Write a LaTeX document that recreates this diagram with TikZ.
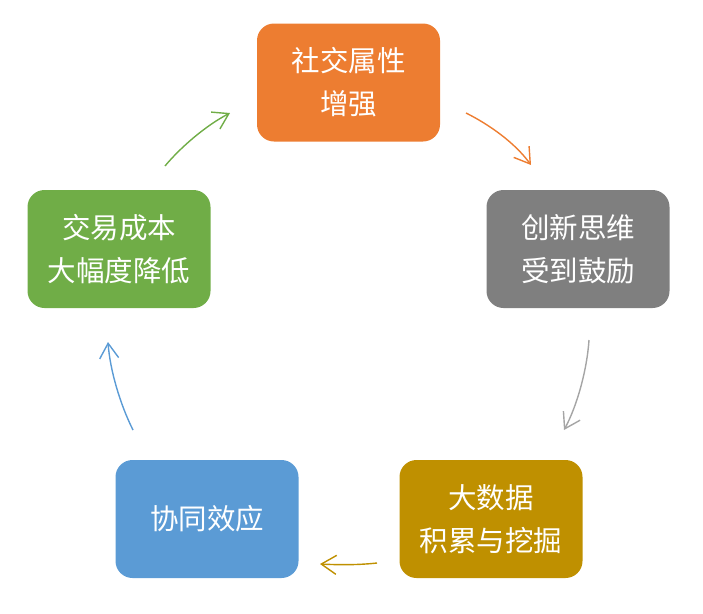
\documentclass[tikz,border=0pt]{standalone}
\usepackage{fontspec}
\newfontfamily\cjk{Noto Sans CJK SC}
\usetikzlibrary{arrows.meta,calc}
\definecolor{cOrange}{HTML}{ED7D31}
\definecolor{cGray}{HTML}{7F7F7F}
\definecolor{cGrayLine}{HTML}{A5A5A5}
\definecolor{cGold}{HTML}{BF9000}
\definecolor{cBlue}{HTML}{5B9BD5}
\definecolor{cGreen}{HTML}{70AD47}
\tikzset{
  box/.style={rounded corners=17pt, minimum width=183pt, minimum height=118pt,
    inner sep=0pt, align=center, text=white,
    font=\cjk\fontsize{28.5}{43}\selectfont},
  flow/.style={line width=1.4pt, -{Straight Barb[length=15pt,width=19pt,line width=1.4pt]}}
}
\begin{document}
\begin{tikzpicture}[x=1pt,y=-1pt]
\useasboundingbox (0,0) rectangle (703,613);
\node[box, fill=cOrange] (top) at (348.5,82.5) {社交属性\\增强};
\node[box, fill=cGray] (right) at (578,249) {创新思维\\受到鼓励};
\node[box, fill=cGold] (br) at (491,519) {大数据\\积累与挖掘};
\node[box, fill=cBlue] (bl) at (207,519) {协同效应};
\node[box, fill=cGreen] (left) at (119,249) {交易成本\\大幅度降低};
% arrow end points, placed relative to the boxes
\coordinate (o1) at ($(top.center)+(117.5,30.5)$);
\coordinate (o2) at ($(right.center)+(-47,-84)$);
\coordinate (g1) at ($(right.center)+(11,91)$);
\coordinate (g2) at ($(right.center)+(-14,181)$);
\coordinate (y1) at ($(br.center)+(-114,44)$);
\coordinate (y2) at ($(br.center)+(-171,45)$);
\coordinate (b1) at ($(bl.center)+(-74,-89)$);
\coordinate (b2) at ($(bl.center)+(-99,-177)$);
\coordinate (e1) at ($(left.center)+(46,-83)$);
\coordinate (e2) at ($(left.center)+(111,-136)$);
\draw[flow, cOrange] (o1) .. controls ($(o1)+(24,12)$) and ($(o2)+(-16,-22)$) .. (o2);
\draw[flow, cGrayLine] (g1) .. controls ($(g1)+(-2,30)$) and ($(g2)+(13,-24)$) .. (g2);
\draw[flow, cGold] (y1) .. controls ($(y1)+(-18,2)$) and ($(y2)+(20,1)$) .. (y2);
\draw[flow, cBlue] (b1) .. controls ($(b1)+(-13,-26)$) and ($(b2)+(2,28)$) .. (b2);
\draw[flow, cGreen] (e1) .. controls ($(e1)+(15,-18)$) and ($(e2)+(-25,13)$) .. (e2);
\end{tikzpicture}
\end{document}
